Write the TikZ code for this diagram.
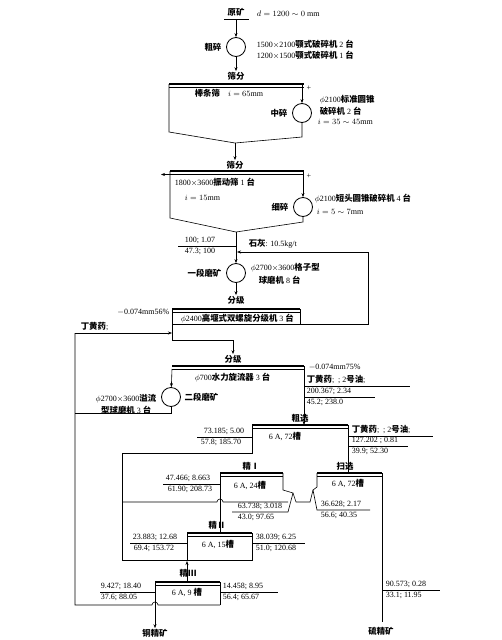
\documentclass[tikz,border=0pt]{standalone}
\usepackage{fontspec}
\setmainfont{Liberation Serif}
\newfontfamily\cjk{Noto Sans CJK SC}[Scale=1.05]
\usetikzlibrary{arrows.meta,positioning,calc}
\newcommand\zh[1]{{\cjk\bfseries #1}}

\begin{document}
\begin{tikzpicture}[x=1pt,y=-1pt,semithick,
	mach/.style={circle,draw,thick,minimum size=19pt,inner sep=0pt},
	lbl/.style={font=\fontsize{8}{9}\selectfont,inner sep=0.5pt},
	up/.style={lbl,anchor=south west},
	dn/.style={lbl,anchor=north west},
	flow/.style={-{Stealth[length=4pt,width=3pt]}},
	froth/.style={line width=1.5pt}]
\useasboundingbox (0,0) rectangle (501,640);

% crushing
\node[lbl] (ore) at (236,12) {\zh{原矿}};
\node[lbl,anchor=west] at (256,14) {$d=1200\sim0$ mm};
\draw (224,19) -- (249,19);
\coordinate (feed) at (236,19);
\node[mach] (cr1) at (236,47) {};
\node[lbl,left=4pt of cr1] {\zh{粗碎}};
\node[lbl,anchor=west] at (256,44) {1500$\times$2100\zh{颚式破碎机} 2 \zh{台}};
\node[lbl,anchor=west] at (256,55) {1200$\times$1500\zh{颚式破碎机} 1 \zh{台}};
\draw[flow] (feed) -- (cr1);
\node[lbl] (sc1) at (236,76) {\zh{筛分}};
\draw[flow] (cr1) -- (sc1.north);

\draw[froth] (169,84) -- (304,84);
\draw (169,87.5) -- (304,87.5);
\node[mach] (cr2) at (302,113) {};
\draw (169,84) -- (169,132) -- (235,143) -- (302,137) -- (cr2);
\draw[flow] (302,84) -- (cr2);
\node[lbl] at (309,88) {+};
\node[lbl,anchor=west] at (194,93) {\zh{棒条筛}\quad $i=65$mm};
\node[lbl,left=4pt of cr2] {\zh{中碎}};
\node[lbl,anchor=west] at (319,100) {$\phi$2100\zh{标准圆锥}};
\node[lbl,anchor=west] at (319,111) {\zh{破碎机} 2 \zh{台}};
\node[lbl,anchor=west] at (317,122) {$i=35\sim45$mm};
\node[lbl] (sc2) at (235,165) {\zh{筛分}};
\draw[flow] (235,143) -- (sc2.north);

\draw[froth] (170,171) -- (304,171);
\draw (170,174.5) -- (304,174.5);
\draw[flow] (170,174.5) -- (161,174.5);
\node[lbl] at (309,176) {+};
\node[mach] (cr3) at (303,207) {};
\draw[flow] (303,171) -- (cr3);
\draw (170,171) -- (170,218) -- (236,232) -- (303,222) -- (cr3);
\node[lbl,anchor=west] at (174,182) {1800$\times$3600\zh{振动筛} 1 \zh{台}};
\node[lbl,anchor=west] at (184,198) {$i=15$mm};
\node[lbl,left=4pt of cr3] {\zh{细碎}};
\node[lbl,anchor=west] at (314,199) {$\phi$2100\zh{短头圆锥破碎机} 4 \zh{台}};
\node[lbl,anchor=west] at (316,212) {$i=5\sim7$mm};

% grinding
\node[mach] (mill1) at (236,273) {};
\draw[flow] (236,232) -- (mill1);
\draw (236,246) -- (178,246);
\node[up] at (184,245) {100; 1.07};
\node[dn] at (184,247) {47.3; 100};
\node[up] at (248,249) {\zh{石灰}: 10.5kg/t};
\node[lbl,left=4pt of mill1] {\zh{一段磨矿}};
\node[lbl,anchor=west] at (250,268) {$\phi$2700$\times$3600\zh{格子型}};
\node[lbl,anchor=west] at (258,280) {\zh{球磨机} 8 \zh{台}};
\node[lbl] (cl1) at (236,300) {\zh{分级}};
\draw[flow] (mill1) -- (cl1.north);

\draw[froth] (172,309) -- (300,309);
\draw (172,312) -- (300,312);
\draw (300,309) -- (300,324) -- (172,324);
\draw (172,309) -- (172,340) -- (233,340);
\draw[flow] (300,324) -- (368,324) -- (368,252) -- (237,252);
\node[lbl,anchor=west] at (180,319) {$\phi$2400\zh{高堰式双螺旋分级机} 3 \zh{台}};
\node[lbl,anchor=east] at (170,312) {$-$0.074mm56\%};
\node[up] at (80,332) {\zh{丁黄药};};
\draw[flow] (75,333) -- (172,333);
\node[lbl] (cl2) at (233,359) {\zh{分级}};
\draw[flow] (233,340) -- (cl2.north);

\draw[froth] (172,366) -- (304,366);
\draw (172,369) -- (304,369);
\draw (304,366) -- (304,386);
\node[lbl,anchor=west] at (194,378) {$\phi$700\zh{水力旋流器} 3 \zh{台}};
\node[lbl,anchor=west] at (308,367) {$-$0.074mm75\%};
\node[mach] (mill2) at (171,397) {};
\draw[flow] (172,369) -- (mill2);
\draw (mill2) -- (171,413) -- (75,413);
\draw (75,333) -- (75,605) -- (152,605) arc (180:360:3) -- (220,605);
\node[lbl,right=3pt of mill2] {\zh{二段磨矿}};
\node[lbl,anchor=east] at (157,399) {$\phi$2700$\times$3600\zh{溢流}};
\node[lbl,anchor=east] at (152,410) {\zh{型球磨机} 3 \zh{台}};
\node[up] at (306,385) {\zh{丁黄药}; \ ; 2\zh{号油};};
\draw (304,386) -- (410,386);

% roughing
\draw[flow] (304,386) -- (304,425);
\draw (304,397) -- (375,397);
\node[up] at (306,396) {200.367; 2.34};
\node[dn] at (306,398) {45.2; 238.0};
\node[lbl] at (300,418) {\zh{粗选}};
\draw[froth] (252,425) -- (348,425);
\draw (252,428) -- (348,428);
\node[lbl] at (285,437) {6 A, 72\zh{槽}};
\draw (252,425) -- (252,453) -- (122,453) -- (122,560) -- (187,560);
\draw (122,502) -- (217,502) arc (180:360:3) -- (288,502);
\draw (348,425) -- (348,473);
\draw (252,437) -- (197,437);
\node[up] at (203,436) {73.185; 5.00};
\node[dn] at (200,438) {57.8; 185.70};
\draw (348,436) -- (433,436);
\node[up] at (351,435) {\zh{丁黄药}; \ ; 2\zh{号油};};
\draw (348,446) -- (408,446);
\node[up] at (351,445) {127.202 ; 0.81};
\node[dn] at (351,447) {39.9; 52.30};

% cleaner I
\node[lbl] at (251,466) {\zh{精Ⅰ}};
\draw[froth] (220,473) -- (283,473);
\draw (220,476) -- (283,476);
\node[lbl] at (250,486) {6 A, 24\zh{槽}};
\draw (220,473) -- (220,533);
\draw (283,473) -- (283,490) -- (293,493) -- (288,512) -- (232,512);
\draw (293,493) -- (296,502) -- (310,502) -- (313,490);
\draw (220,484) -- (163,484);
\node[up] at (165,483) {47.466; 8.663};
\node[dn] at (167,485) {61.90; 208.73};
\node[up] at (237,511) {63.738; 3.018};
\node[dn] at (237,513) {43.0; 97.65};

% scavenger
\node[lbl] at (345,466) {\zh{扫选}};
\draw[froth] (317,473) -- (382,473);
\draw (317,476) -- (382,476);
\node[lbl] at (348,484) {6 A, 72\zh{槽}};
\draw (317,473) -- (317,487) -- (313,490) -- (317,510) -- (370,510);
\draw (382,473) -- (382,622);
\node[up] at (320,509) {36.628; 2.17};
\node[dn] at (320,511) {56.6; 40.35};
\draw (382,590) -- (440,590);
\node[up] at (385,589) {90.573; 0.28};
\node[dn] at (385,591) {33.1; 11.95};
\node[lbl] at (381,631) {\zh{硫精矿}};

% cleaner II
\node[lbl] at (217,525) {\zh{精Ⅱ}};
\draw[froth] (187,533) -- (252,533);
\draw (187,536) -- (252,536);
\node[lbl] at (218,545) {6 A, 15\zh{槽}};
\draw (187,533) -- (187,560) -- (252,560) -- (252,533);
\draw (187,543) -- (130,543);
\node[up] at (132,542) {23.883; 12.68};
\node[dn] at (133,544) {69.4; 153.72};
\draw (252,543) -- (305,543);
\node[up] at (255,542) {38.039; 6.25};
\node[dn] at (255,544) {51.0; 120.68};
\draw[flow] (187,582) -- (187,561);

% cleaner III
\node[lbl] at (188,573) {\zh{精Ⅲ}};
\draw[froth] (155,582) -- (220,582);
\draw (155,585) -- (220,585);
\node[lbl] at (187,593) {6 A, 9 \zh{槽}};
\draw (155,582) -- (155,605);
\draw (220,582) -- (220,605);
\draw (155,592) -- (100,592);
\node[up] at (100,591) {9.427; 18.40};
\node[dn] at (100,593) {37.6; 88.05};
\draw (220,592) -- (278,592);
\node[up] at (222,591) {14.458; 8.95};
\node[dn] at (222,593) {56.4; 65.67};
\node[lbl] (cuc) at (155,633) {\zh{铜精矿}};
\draw[flow] (155,600) -- (cuc.north);
\end{tikzpicture}
\end{document}
